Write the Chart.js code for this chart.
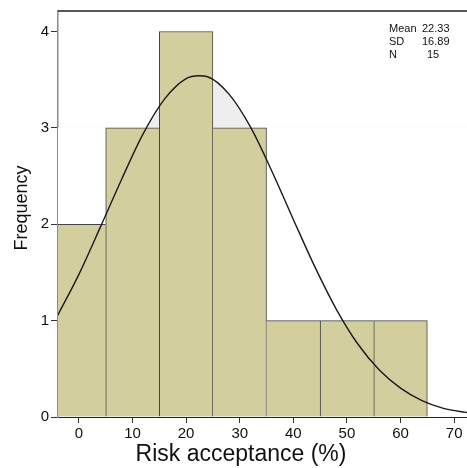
<!DOCTYPE html>
<html lang="en">
<head>
  <meta charset="UTF-8">
  <title>Risk acceptance histogram</title>
  <script src="https://cdn.jsdelivr.net/npm/chart.js"></script>
  <style>
    html, body { margin: 0; padding: 0; background: #fff; }
  </style>
</head>
<body>
<canvas id="histChart" width="467" height="468"></canvas>

<script>
  // histogram bins (width 10) and counts
  const binCenters = [0, 10, 20, 30, 40, 50, 60];
  const binCounts = [2, 3, 4, 3, 1, 1, 1];

  // normal curve
  const curveX = [-4, 0, 4, 8, 12, 16, 20, 22.33, 24, 28, 32, 36, 40, 44, 48, 52, 56, 60, 64, 68, 72, 76];
  const curveY = [1.05, 1.48, 1.97, 2.47, 2.94, 3.30, 3.51, 3.54, 3.53, 3.35, 3.01, 2.55, 2.05, 1.56, 1.12, 0.76, 0.49, 0.30, 0.17, 0.09, 0.05, 0.02];

  const xTicks = [0, 10, 20, 30, 40, 50, 60, 70];
  const yTicks = [0, 1, 2, 3, 4];
  const statLabels = ['Mean', 'SD', 'N'];
  const statValues = ['22.33', '16.89', '15'];

  const FONT = '"Liberation Sans", Arial, sans-serif';

  // draw each shared edge once
  const barBorder = ctx => {
    const i = ctx.dataIndex;
    const cur = binCounts[i], prev = binCounts[i - 1], next = binCounts[i + 1];
    return {
      top: 1,
      bottom: 0,
      left: (prev === undefined || prev <= cur) ? 1 : 0,
      right: (next === undefined || next < cur) ? 1 : 0
    };
  };

  const decorations = {
    id: 'decorations',
    afterDraw(chart) {
      const { ctx, chartArea } = chart;
      ctx.save();
      ctx.strokeStyle = '#222';
      ctx.lineWidth = 1.5;
      ctx.beginPath();
      ctx.moveTo(chartArea.left, chartArea.top);
      ctx.lineTo(chartArea.right, chartArea.top);
      ctx.stroke();

      // stats box, top right
      ctx.fillStyle = '#111';
      ctx.font = '11px ' + FONT;
      ctx.textBaseline = 'middle';
      ctx.textAlign = 'left';
      statLabels.forEach((k, i) => {
        const y = 29 + i * 13;
        ctx.fillText(k, 389, y);
        ctx.fillText(statValues[i], statValues[i].length < 3 ? 427 : 422, y);
      });

      ctx.font = '23px ' + FONT;
      ctx.textAlign = 'center';
      ctx.textBaseline = 'alphabetic';
      ctx.fillText('Risk acceptance (%)', 241, 461);

      ctx.font = '18px ' + FONT;
      ctx.translate(27, 208);
      ctx.rotate(-Math.PI / 2);
      ctx.fillText('Frequency', 0, 0);
      ctx.restore();
    }
  };

  new Chart(document.getElementById('histChart'), {
    type: 'bar',
    data: {
      datasets: [{
        type: 'line',
        order: 1,
        data: curveX.map((x, i) => ({ x: x, y: curveY[i] })),
        borderColor: '#1a1a1a',
        borderWidth: 1.4,
        backgroundColor: '#eeeeee',
        // light grey only shows where the curve rises above the 3-high bars
        fill: { target: { value: 3 }, above: '#eeeeee', below: '#ffffff' },
        pointRadius: 0,
        cubicInterpolationMode: 'monotone'
      }, {
        type: 'bar',
        order: 2,
        data: binCenters.map((x, i) => ({ x: x, y: binCounts[i] })),
        backgroundColor: '#d3ce9d',
        borderColor: '#444',
        borderWidth: barBorder,
        borderSkipped: false,
        barPercentage: 1,
        categoryPercentage: 1
      }]
    },
    options: {
      responsive: false,
      animation: false,
      layout: { padding: { top: 7, left: 0, right: 0, bottom: 0 } },
      plugins: {
        legend: { display: false },
        tooltip: { enabled: false },
        filler: { drawTime: 'beforeDatasetsDraw' }
      },
      scales: {
        x: {
          type: 'linear',
          min: -3.9,
          max: 72.4,
          offset: false,
          afterBuildTicks: s => { s.ticks = xTicks.map(v => ({ value: v })); },
          afterFit: s => { s.height = 51; },
          grid: { drawOnChartArea: false, offset: false, color: '#333', tickLength: 6 },
          border: { color: '#222', width: 1 },
          ticks: { font: { size: 15, family: FONT }, color: '#111', padding: 2, maxRotation: 0 }
        },
        y: {
          min: 0,
          max: 4.21233,
          afterBuildTicks: s => { s.ticks = yTicks.map(v => ({ value: v })); },
          afterFit: s => { s.width = 58; },
          grid: { drawOnChartArea: false, color: '#333', tickLength: 7 },
          border: { color: '#8a8a8a', width: 1.5 },
          ticks: { font: { size: 15, family: FONT }, color: '#111', padding: 2 }
        }
      }
    },
    plugins: [decorations]
  });
</script>
</body>
</html>
